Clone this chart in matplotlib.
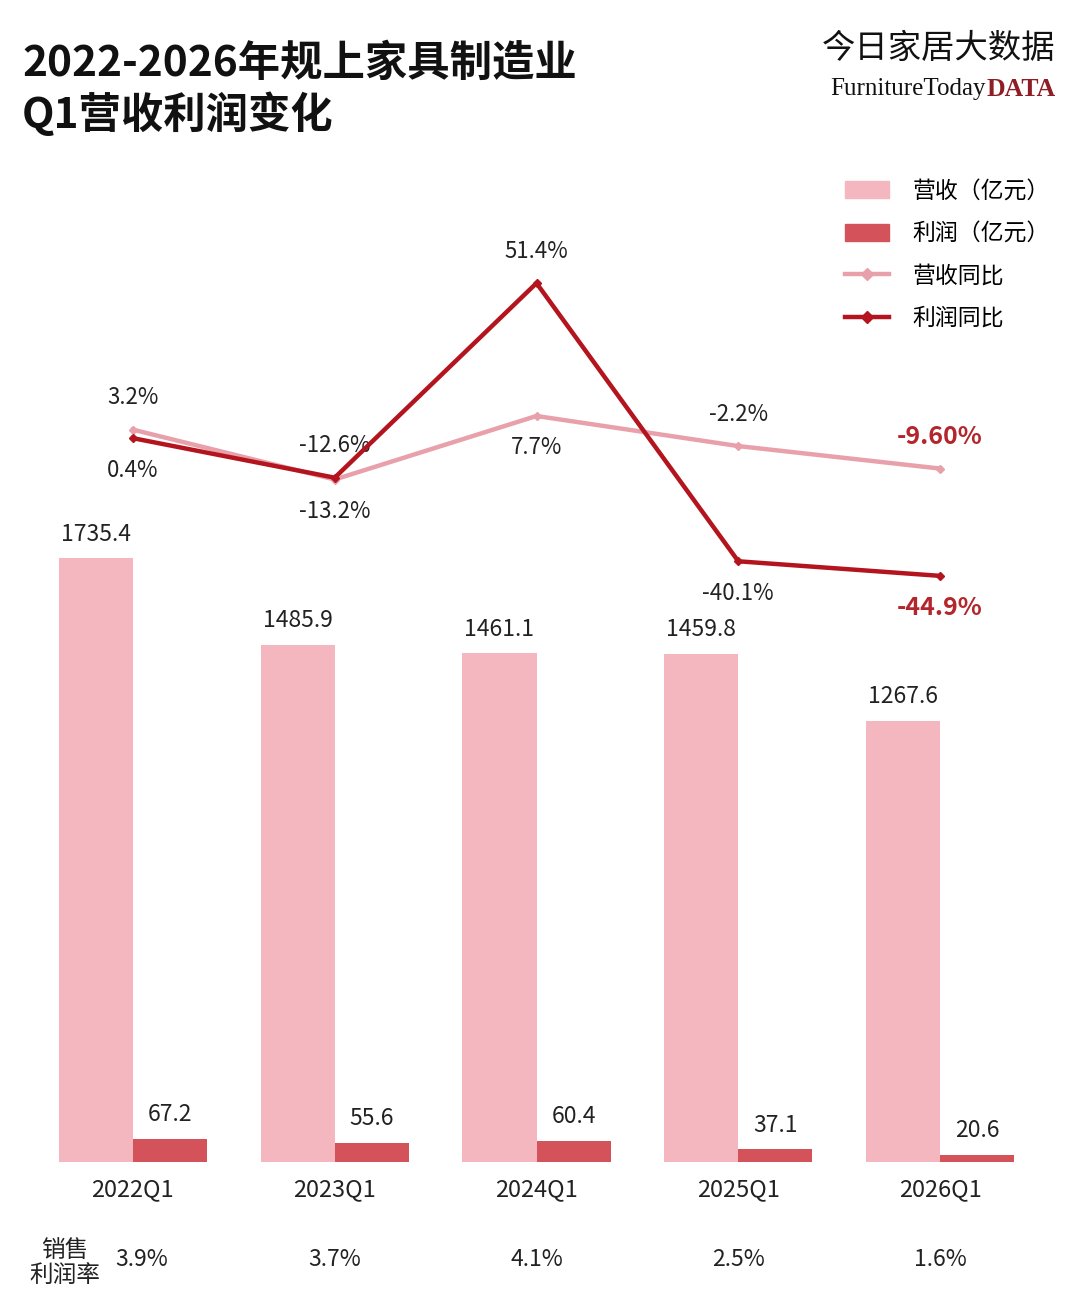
import matplotlib
matplotlib.use("Agg")
import matplotlib.pyplot as plt
from matplotlib.patches import Patch
from matplotlib.lines import Line2D

plt.rcParams['font.family'] = ['Noto Sans CJK SC', 'DejaVu Sans']

# data
QUARTERS = ["2022Q1", "2023Q1", "2024Q1", "2025Q1", "2026Q1"]
REVENUE = [1735.4, 1485.9, 1461.1, 1459.8, 1267.6]
PROFIT = [67.2, 55.6, 60.4, 37.1, 20.6]
REV_YOY = [3.2, -13.2, 7.7, -2.2, -9.6]
PROFIT_YOY = [0.4, -12.6, 51.4, -40.1, -44.9]
REV_YOY_TXT = ["3.2%", "-13.2%", "7.7%", "-2.2%", "-9.60%"]
PROFIT_YOY_TXT = ["0.4%", "-12.6%", "51.4%", "-40.1%", "-44.9%"]
MARGIN = ["3.9%", "3.7%", "4.1%", "2.5%", "1.6%"]
# +1 label above the point, -1 below
REV_SIDE = [1, -1, -1, 1, 1]
PROFIT_SIDE = [-1, 1, 1, -1, -1]

C_REV = "#f4b6bf"; C_PRO = "#d4535b"
C_REV_L = "#e8a1ab"; C_PRO_L = "#b3141d"; C_HI = "#b3262c"
TXT = "#222222"

W, H = 1080, 1309
fig = plt.figure(figsize=(W / 100, H / 100), dpi=100)
fig.patch.set_facecolor("white")

ax = fig.add_axes([32 / W, (H - 1162) / H, 1009 / W, 1002 / H])
x = list(range(len(QUARTERS)))
bw = 0.367
ax.bar([i - bw / 2 for i in x], REVENUE, bw, color=C_REV)
ax.bar([i + bw / 2 for i in x], PROFIT, bw, color=C_PRO)
ax.set_xlim(-0.5, len(x) - 0.5)
ax.set_ylim(0, 2879)
for s in ax.spines.values():
    s.set_visible(False)
ax.set_yticks([])
ax.set_xticks(x)
ax.set_xticklabels(QUARTERS, fontsize=17, color=TXT)
ax.tick_params(axis="x", length=0, pad=12)
for i in x:
    ax.annotate(f"{REVENUE[i]:.1f}", (i - bw / 2, REVENUE[i]), xytext=(0, 9),
                textcoords="offset points", ha="center", va="bottom", fontsize=16.5, color=TXT)
    ax.annotate(f"{PROFIT[i]:.1f}", (i + bw / 2, PROFIT[i]), xytext=(0, 9),
                textcoords="offset points", ha="center", va="bottom", fontsize=16.5, color=TXT)

ax2 = ax.twinx()
ax2.set_ylim(-237.7, 91.9)
ax2.axis("off")
ax2.plot(x, REV_YOY, color=C_REV_L, lw=3.2, marker="D", ms=4, zorder=3)
ax2.plot(x, PROFIT_YOY, color=C_PRO_L, lw=3.2, marker="D", ms=4, zorder=4)
for i in x:
    hi = i == len(x) - 1
    kw = dict(fontsize=18 if hi else 16, color=C_HI if hi else TXT,
              fontweight="bold" if hi else "normal", ha="center", va="center",
              textcoords="offset points")
    ax2.annotate(REV_YOY_TXT[i], (i, REV_YOY[i]), xytext=(0, 23 * REV_SIDE[i]), **kw)
    ax2.annotate(PROFIT_YOY_TXT[i], (i, PROFIT_YOY[i]), xytext=(0, 23 * PROFIT_SIDE[i]), **kw)

# bottom margin row
fig.text(65 / W, 1 - 1263 / H, "销售\n利润率", ha="center", va="center", fontsize=17,
         color=TXT, linespacing=1.15)
for i in x:
    px = ax.transData.transform((i, 0))[0] / W
    if i == 0:
        px += 9 / W
    fig.text(px, 1 - 1260 / H, MARGIN[i], ha="center", va="center", fontsize=16.5, color=TXT)

# legend
handles = [Patch(color=C_REV), Patch(color=C_PRO),
           Line2D([], [], color=C_REV_L, lw=3.2, marker="D", ms=6, markevery=[0, -1]),
           Line2D([], [], color=C_PRO_L, lw=3.2, marker="D", ms=6, markevery=[0, -1])]
labels = ["营收（亿元）", "利润（亿元）", "营收同比", "利润同比"]
fig.legend(handles, labels, loc="upper left", bbox_to_anchor=(824 / W, 1 - 159 / H),
           frameon=False, fontsize=16.5, handlelength=1.95, handleheight=0.75,
           labelspacing=0.85, handletextpad=1.0)

# title and logo
fig.text(22 / W, 1 - 43 / H, "2022-2026年规上家具制造业\nQ1营收利润变化", ha="left", va="top",
         fontsize=30.5, fontweight="bold", color="#111111", linespacing=1.2)
fig.text(1055 / W, 1 - 48 / H, "今日家居大数据", ha="right", va="center", fontsize=24, color="#111111")
fig.text(986 / W, 1 - 89 / H, "FurnitureToday", ha="right", va="center", fontsize=18,
         family="Liberation Serif", color="#111111")
fig.text(1056 / W, 1 - 89 / H, "DATA", ha="right", va="center", fontsize=18.5,
         family="Liberation Serif", fontweight="bold", color="#8e1d25")

fig.savefig("out.png", dpi=100, facecolor="white")
